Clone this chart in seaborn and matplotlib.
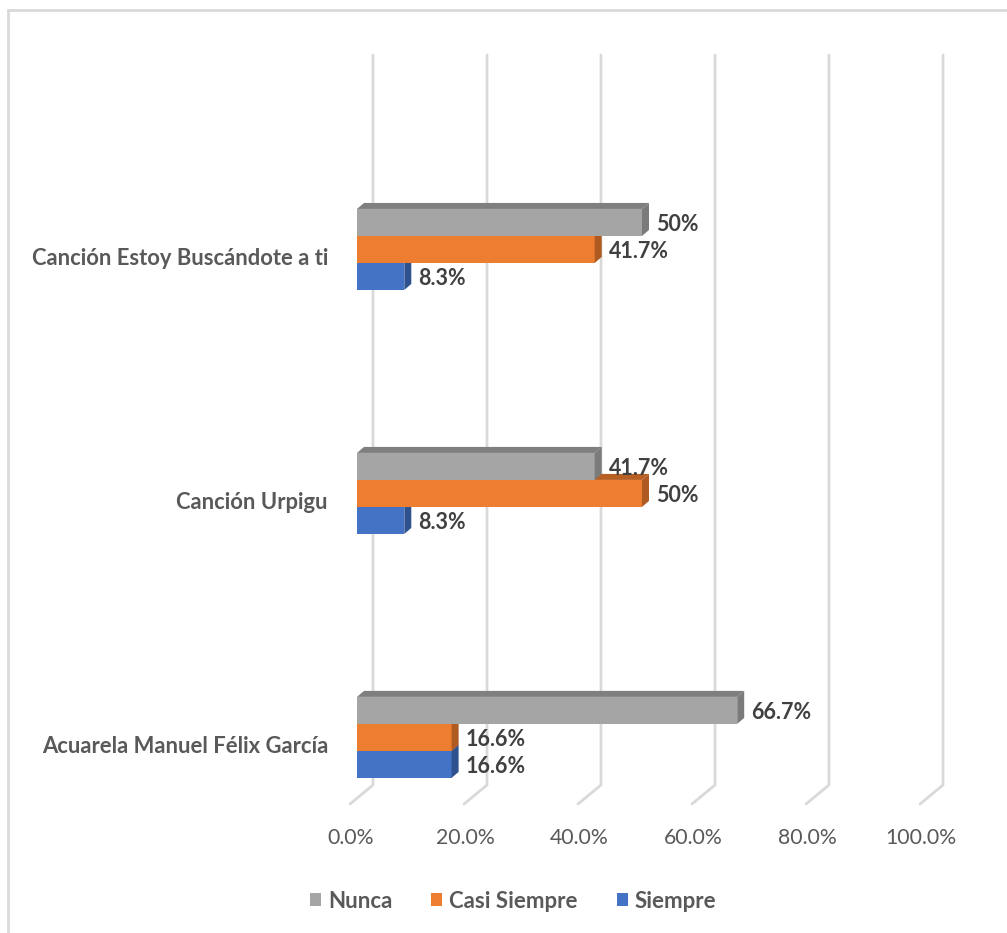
import numpy as np
import pandas as pd
import matplotlib
matplotlib.use("Agg")
import matplotlib.pyplot as plt
import seaborn as sns
from matplotlib.patches import Polygon, Patch
from matplotlib.lines import Line2D
from matplotlib.transforms import IdentityTransform, ScaledTranslation

# ---- data ----
categories = ["Canción Estoy Buscándote a ti", "Canción Urpigu", "Acuarela Manuel Félix García"]
series = ["Nunca", "Casi Siempre", "Siempre"]
nunca = [50, 41.7, 66.7]
casi_siempre = [41.7, 50, 16.6]
siempre = [8.3, 8.3, 16.6]
x_ticks = [0, 20, 40, 60, 80, 100]

colors = {"Nunca": "#A5A5A5", "Casi Siempre": "#ED7D31", "Siempre": "#4472C4"}
side_colors = {"Nunca": "#7B7B7B", "Casi Siempre": "#AE5A21", "Siempre": "#2F528F"}
top_colors = {"Nunca": "#7F7F7F", "Casi Siempre": "#B85F24", "Siempre": "#34599B"}

rows = []
for s, vals in zip(series, [nunca, casi_siempre, siempre]):
    for c, v in zip(categories, vals):
        rows.append({"cat": c, "val": v, "serie": s})
df = pd.DataFrame(rows)

sns.set_theme(style="white")
FONT = ["Lato", "DejaVu Sans"]
plt.rcParams["font.family"] = FONT

W, H = 1007, 933
fig = plt.figure(figsize=(W / 100, H / 100), dpi=100)
# axes: x from px 357 (0%) to 927 (100%), y from px 55 to 804
ax = fig.add_axes([357 / W, (H - 804) / H, 570 / W, 749 / H])

sns.barplot(data=df, y="cat", x="val", hue="serie", order=categories,
            hue_order=series, palette=colors, saturation=1, width=0.332,
            orient="h", ax=ax, legend=False, errorbar=None)

ax.set_xlim(0, 100)
ax.set_ylim(2.273, -0.797)
for sp in ax.spines.values():
    sp.set_visible(False)
ax.set_xlabel("")
ax.set_ylabel("")
ax.grid(False)

fig.canvas.draw()

def to_px(x, y):
    return ax.transData.transform((x, y))

# ---- 3D-ish gridlines (back wall + floor diagonal) ----
grid_c = "#D9D9D9"
top_disp = H - 55
back_bottom = H - 785
front_bottom = H - 804
for t in x_ticks:
    xp = to_px(t, 0)[0]
    ln = Line2D([xp + 16, xp + 16, xp - 7], [top_disp, back_bottom, front_bottom],
                transform=IdentityTransform(), color=grid_c, lw=2.0, zorder=0.5,
                clip_on=False)
    ax.add_line(ln)

# ---- 3D faces on bars ----
DX, DY = 7, 6
zbase = {"Siempre": 2.0, "Casi Siempre": 2.2, "Nunca": 2.4}
for s, cont in zip(series, ax.containers):
    for rect in cont.patches:
        rect.set_zorder(zbase[s])
        rect.set_edgecolor("none")
        x0, y0 = rect.get_x(), rect.get_y()
        w, h = rect.get_width(), rect.get_height()
        ytop_d = min(y0, y0 + h)
        ybot_d = max(y0, y0 + h)
        xl, yt = to_px(x0, ytop_d)
        xr, yb = to_px(x0 + w, ybot_d)
        top = Polygon([(xl, yt), (xr, yt), (xr + DX, yt + DY), (xl + DX, yt + DY)],
                      closed=True, transform=IdentityTransform(), facecolor=top_colors[s],
                      edgecolor="none", zorder=zbase[s], clip_on=False)
        side = Polygon([(xr, yb), (xr, yt), (xr + DX, yt + DY), (xr + DX, yb + DY)],
                       closed=True, transform=IdentityTransform(), facecolor=side_colors[s],
                       edgecolor="none", zorder=zbase[s], clip_on=False)
        ax.add_patch(top)
        ax.add_patch(side)
        v = w
        ax.annotate(f"{v:g}%", xy=(x0 + w, (ytop_d + ybot_d) / 2),
                    xytext=(14 * 0.72, -2 * 0.72), textcoords="offset points",
                    ha="left", va="center", fontsize=15.5, fontweight="bold",
                    color="#404040", family=FONT, zorder=5)

# ---- ticks ----
ax.set_xticks(x_ticks)
ax.set_xticklabels([f"{t:.1f}%" for t in x_ticks], fontsize=15.3, color="#595959", family=FONT)
ax.tick_params(axis="x", length=0, pad=17)
for lab in ax.get_xticklabels():
    lab.set_transform(lab.get_transform() + ScaledTranslation(-6 / 100, 0, fig.dpi_scale_trans))

ax.set_yticks(range(len(categories)))
ax.set_yticklabels(categories, fontsize=15.8, fontweight="bold", color="#595959", family=FONT)
ax.tick_params(axis="y", length=0, pad=29 * 0.72)
for lab in ax.get_yticklabels():
    lab.set_transform(lab.get_transform() + ScaledTranslation(0, -7 / 100, fig.dpi_scale_trans))

# ---- legend ----
handles = [Patch(facecolor=colors[s], edgecolor="none") for s in series]
leg = fig.legend(handles, series, loc="center", bbox_to_anchor=(513 / W, 1 - 901 / H),
                 ncol=3, frameon=False, handlelength=0.5, handleheight=0.5,
                 handletextpad=0.32, columnspacing=1.75,
                 prop={"family": FONT, "weight": "bold", "size": 16})
for t in leg.get_texts():
    t.set_color("#595959")

# ---- outer border (top and left) ----
fig.add_artist(Line2D([7.5, W], [H - 9.5, H - 9.5], transform=IdentityTransform(),
                      color="#D9D9D9", lw=2))
fig.add_artist(Line2D([7.5, 7.5], [0, H - 9.5], transform=IdentityTransform(),
                      color="#D9D9D9", lw=2))

fig.savefig("out.png", dpi=100, facecolor="white")
